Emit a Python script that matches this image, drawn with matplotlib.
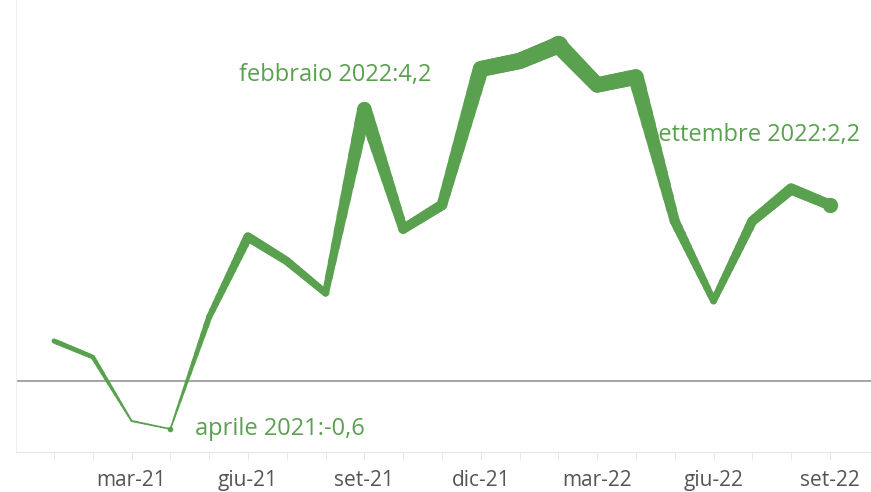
import numpy as np
import matplotlib
matplotlib.use("Agg")
import matplotlib.pyplot as plt
from matplotlib.collections import LineCollection

plt.rcParams["font.family"] = ["Open Sans", "DejaVu Sans"]

# monthly values, gen-21 .. set-22
months = ["gen-21", "feb-21", "mar-21", "apr-21", "mag-21", "giu-21", "lug-21",
          "ago-21", "set-21", "ott-21", "nov-21", "dic-21", "gen-22", "feb-22",
          "mar-22", "apr-22", "mag-22", "giu-22", "lug-22", "ago-22", "set-22"]
values = [0.5, 0.3, -0.5, -0.6, 0.8, 1.8, 1.5, 1.1, 3.4, 1.9, 2.2, 3.9, 4.0, 4.2,
          3.7, 3.8, 2.0, 1.0, 2.0, 2.4, 2.2]
tick_idx = [2, 5, 8, 11, 14, 17, 20]
tick_labels = ["mar-21", "giu-21", "set-21", "dic-21", "mar-22", "giu-22", "set-22"]

green = "#59a14f"
x = np.arange(len(values))
y = np.array(values, dtype=float)

fig = plt.figure(figsize=(8.71, 4.92), dpi=100)
ax = fig.add_axes([16 / 871, 40 / 492, 855 / 871, 452 / 492])

def width_pt(v):
    # size encoding: thicker line for bigger values (px -> pt)
    return (3.5 + 3.2 * v) * 0.72

# tapered line: draw each interval in small pieces
segs, widths = [], []
n = 12
for i in range(len(x) - 1):
    t = np.linspace(0, 1, n + 1)
    xs = x[i] + (x[i + 1] - x[i]) * t
    ys = y[i] + (y[i + 1] - y[i]) * t
    for k in range(n):
        segs.append([(xs[k], ys[k]), (xs[k + 1], ys[k + 1])])
        widths.append(width_pt((ys[k] + ys[k + 1]) / 2))
lc = LineCollection(segs, linewidths=widths, colors=green, capstyle="round",
                    joinstyle="round", zorder=3)
ax.add_collection(lc)

# labelled points
for i, ms in [(3, 4), (13, 14), (20, 11)]:
    ax.plot(x[i], y[i], "o", color=green, ms=ms, mec="none", zorder=4)

ax.axhline(0, color="#8c8c8c", lw=1.1, zorder=2)

ax.text(3.63, y[3], "aprile 2021:-0,6", color=green, fontsize=17,
        va="center", ha="left")
ax.text(7.24, 3.825, "febbraio 2022:4,2", color=green, fontsize=17,
        va="center", ha="center")
ax.text(18.02, 3.075, "settembre 2022:2,2", color=green, fontsize=17,
        va="center", ha="center")

ax.set_xlim(-0.98, 21.06)
ax.set_ylim(-0.8875, 4.7625)
ax.set_yticks([])
ax.set_xticks(tick_idx)
ax.set_xticklabels(tick_labels, fontsize=15, color="#555555")
ax.set_xticks(x, minor=True)
ax.tick_params(axis="x", which="both", length=6, color="#e6e6e6", pad=7)
for s in ["top", "right"]:
    ax.spines[s].set_visible(False)
ax.spines["left"].set_color("#efefef")
ax.spines["bottom"].set_color("#e6e6e6")

fig.savefig("out.png", dpi=100)
